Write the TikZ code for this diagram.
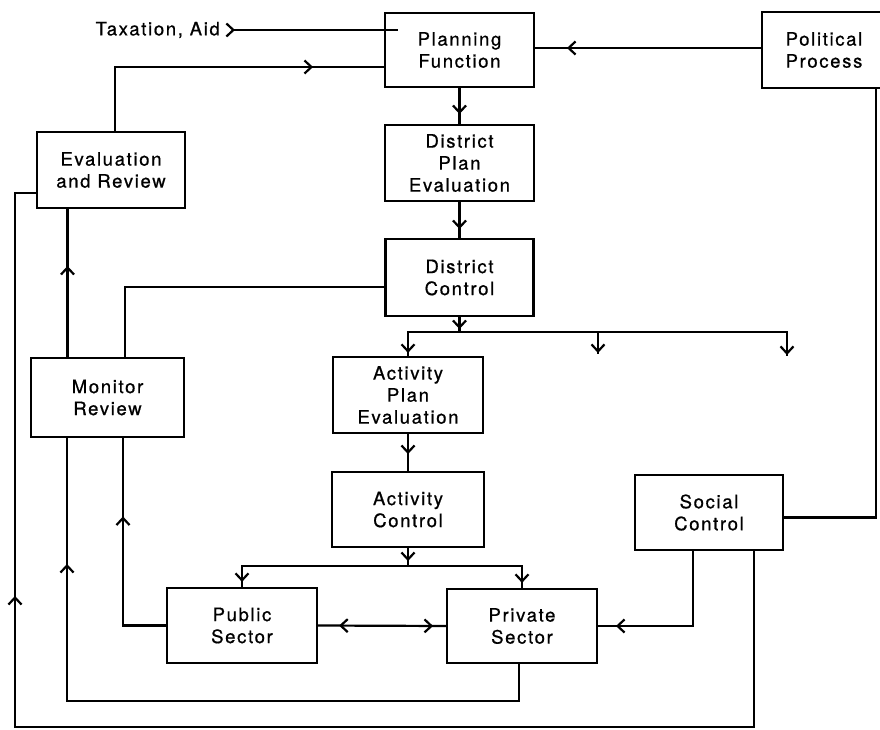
\documentclass[tikz,border=0pt]{standalone}
\usepackage{fontspec}
\setmainfont{TeX Gyre Heros}[LetterSpace=9,FakeBold=0.8]
\usetikzlibrary{arrows.meta,decorations.markings}

\tikzset{
  >={Straight Barb[length=7pt,width=13pt]},
  lnk/.style={line width=2.2pt},
  box/.style={draw,line width=2.2pt,align=center,inner sep=0pt,
    font=\fontsize{18.5}{22}\selectfont},
  fwd/.style={postaction={decorate,decoration={markings,
    mark=at position #1 with {\arrow{>}}}}},
  bwd/.style={postaction={decorate,decoration={markings,
    mark=at position #1 with {\arrowreversed{>}}}}},
}

\begin{document}
\begin{tikzpicture}[x=1pt,y=-1pt]
\useasboundingbox (0,0) rectangle (880,730);

% blocks
\node[box,minimum width=149pt,minimum height=74pt] (pf)  at (459.5,50)  {Planning\\Function};
\node[box,minimum width=124pt,minimum height=76pt] (pp)  at (824,50)    {Political\\Process};
\node[box,minimum width=149pt,minimum height=76pt] (dpe) at (459.5,163) {District\\Plan\\Evaluation};
\node[box,minimum width=148pt,minimum height=77pt] (dc)  at (459.5,277.5) {District\\Control};
\node[box,minimum width=148pt,minimum height=76pt] (er)  at (111,170)   {Evaluation\\and Review};
\node[box,minimum width=153pt,minimum height=79pt] (mr)  at (107.5,397.5) {Monitor\\Review};
\node[box,minimum width=150pt,minimum height=76pt] (ape) at (408,395)   {Activity\\Plan\\Evaluation};
\node[box,minimum width=152pt,minimum height=75pt] (ac)  at (408,509.5) {Activity\\Control};
\node[box,minimum width=150pt,minimum height=75pt] (pub) at (242,625.5) {Public\\Sector};
\node[box,minimum width=150pt,minimum height=74pt] (pri) at (522,626)   {Private\\Sector};
\node[box,minimum width=148pt,minimum height=75pt] (sc)  at (709,512.5) {Social\\Control};
\node[anchor=east,inner sep=0pt,font=\fontsize{18.5}{22}\selectfont] (tax) at (220,30) {Taxation, Aid};

% branch points, open outputs and loop corners
\coordinate (bA) at (459.5,332);
\coordinate (bB) at (408,566);
\coordinate (outM) at (598,354);
\coordinate (outR) at (787,356);
\coordinate (loopA) at (15,727);
\coordinate (loopB) at (67,701);
\coordinate (mrL) at ([xshift=-40.5pt]mr.south);
\coordinate (mrR) at ([xshift=15.5pt]mr.south);
\coordinate (mrT) at ([xshift=-40pt]mr.north);

% inputs to the planning function
\draw[lnk,fwd=1pt] ([xshift=14pt]tax.east) -- ([xshift=14pt]tax.east -| pf.west);
\draw[lnk,fwd=194pt] ([yshift=2pt]pp.west) -- ([yshift=2pt]pp.west -| pf.east);
\draw[lnk,fwd=262pt] ([xshift=4pt]er.north) |- ([yshift=-17pt]pf.west);

% district chain
\draw[lnk,fwd=26pt] (pf.south) -- (dpe.north);
\draw[lnk,fwd=27pt] (dpe.south) -- (dc.north);
\draw[lnk,fwd=12pt] (dc.south) -- (bA);
\draw[lnk,fwd=-3pt] (bA) -| (ape.north);
\draw[lnk,fwd=-1pt] (bA) -| (outM);
\draw[lnk,fwd=-1pt] (bA) -| (outR);

% activity chain
\draw[lnk,fwd=20pt] (ape.south) -- (ac.north);
\draw[lnk,fwd=13pt] (ac.south) -- (bB);
\draw[lnk,fwd=-5pt] (bB) -| (pub.north);
\draw[lnk,fwd=-5pt] (bB) -| (pri.north);

% sectors
\draw[lnk,bwd=21pt,fwd=115pt] (pub.east) -- (pri.west);
\draw[lnk,fwd=152pt] ([xshift=-16pt]sc.south) |- (pri.east);

% feedback loops
\draw[lnk] ([xshift=52pt]pp.south) |- ([yshift=-5pt]sc.east);
\draw[lnk,fwd=1046pt] ([xshift=45pt]sc.south) |- (loopA) |- ([yshift=-23pt]er.west);
\draw[lnk,fwd=626pt] ([xshift=-3pt]pri.south) |- (loopB) -- (mrL);
\draw[lnk,fwd=152pt] (pub.west) -| (mrR);
\draw[lnk,fwd=91pt] (mrT) -- (mrT |- er.south);
\draw[lnk] ([yshift=-9.5pt]dc.west) -| ([xshift=17.5pt]mr.north);
\end{tikzpicture}
\end{document}
